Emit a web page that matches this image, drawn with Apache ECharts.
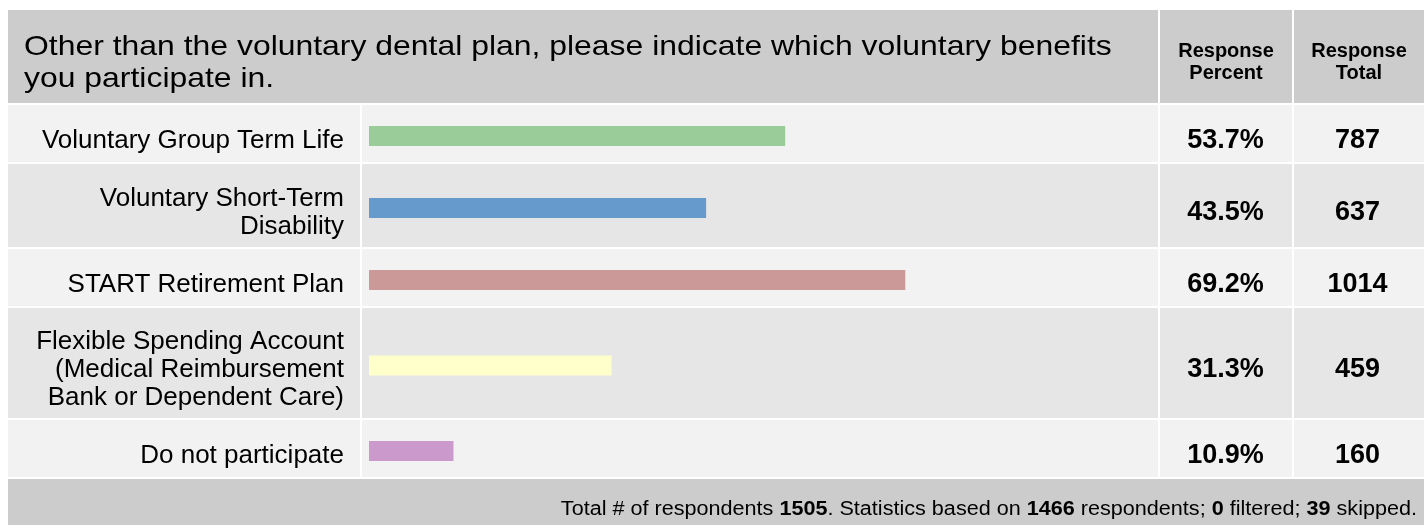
<!DOCTYPE html>
<html>
<head>
<meta charset="utf-8">
<title>Voluntary benefits</title>
<script src="https://cdn.jsdelivr.net/npm/echarts@6/dist/echarts.min.js"></script>
<style>
  html, body { margin: 0; padding: 0; background: #ffffff; }
  #chart { width: 1428px; height: 525px; }
</style>
</head>
<body>
<div id="chart"></div>
<script>
// 数据
const categories = [
  'Voluntary Group Term Life',
  'Voluntary Short-Term\nDisability',
  'START Retirement Plan',
  'Flexible Spending Account\n(Medical Reimbursement\nBank or Dependent Care)',
  'Do not participate'
];
const responsePercent = [53.7, 43.5, 69.2, 31.3, 10.9];
const responseTotal = [787, 637, 1014, 459, 160];
const totalRespondents = 1505;
const answeredRespondents = 1466;
const filteredCount = 0;
const skippedCount = 39;

// 样式 / 版面
const barColors = ['#99cc99', '#6699cc', '#cc9999', '#ffffcc', '#cc99cc'];
const rowBg = ['#f2f2f2', '#e6e6e6', '#f2f2f2', '#e6e6e6', '#f2f2f2'];
const rowBounds = [[105, 162], [164, 247], [249, 306], [308, 418], [420, 477]];
const FONT = '"Liberation Sans", Arial, Helvetica, sans-serif';
const BAR_LEFT = 369, BAR_RIGHT = 284, BAR_H = 20;
const TEXT_SHIFT = 4.5; // 文字比条形略低

const chart = echarts.init(document.getElementById('chart'));

// 背景格子
const graphics = [];
function rect(x, y, w, h, fill) {
  graphics.push({ type: 'rect', z: -10, silent: true, shape: { x, y, width: w, height: h }, style: { fill } });
}
// 表头
rect(8, 10, 1150, 93, '#cccccc');
rect(1160, 10, 132, 93, '#cccccc');
rect(1294, 10, 130, 93, '#cccccc');
// 各行
rowBounds.forEach((b, i) => {
  const h = b[1] - b[0];
  rect(8, b[0], 352, h, rowBg[i]);
  rect(362, b[0], 796, h, rowBg[i]);
  rect(1160, b[0], 132, h, rowBg[i]);
  rect(1294, b[0], 130, h, rowBg[i]);
});
// 页脚
rect(8, 479, 1416, 46, '#cccccc');

// 标题
graphics.push({
  type: 'text', z: 10, x: 24, y: 31, scaleX: 1.14, silent: true,
  style: {
    text: 'Other than the voluntary dental plan, please indicate which voluntary benefits\nyou participate in.',
    font: '28px ' + FONT, fill: '#000', lineHeight: 32,
    textAlign: 'left', textVerticalAlign: 'top'
  }
});
graphics.push({
  type: 'text', z: 10, x: 1226, y: 62, silent: true,
  style: { text: 'Response\nPercent', font: 'bold 20px ' + FONT, fill: '#000', lineHeight: 22, textAlign: 'center', textVerticalAlign: 'middle' }
});
graphics.push({
  type: 'text', z: 10, x: 1359, y: 62, silent: true,
  style: { text: 'Response\nTotal', font: 'bold 20px ' + FONT, fill: '#000', lineHeight: 22, textAlign: 'center', textVerticalAlign: 'middle' }
});
// 页脚说明
graphics.push({
  type: 'text', z: 10, x: 1417, y: 509, scaleX: 1.08, silent: true,
  style: {
    text: 'Total # of respondents {b|' + totalRespondents + '}. Statistics based on {b|' + answeredRespondents +
      '} respondents; {b|' + filteredCount + '} filtered; {b|' + skippedCount + '} skipped.',
    font: '20px ' + FONT, fill: '#000', textAlign: 'right', textVerticalAlign: 'middle',
    rich: { b: { fontWeight: 'bold', fontSize: 20, fontFamily: FONT, fill: '#000' } }
  }
});

// 每行两个grid：一个放条形，一个放文字（行高不同）
const grids = [], xAxes = [], yAxes = [], series = [];
const noLine = { axisLine: { show: false }, axisTick: { show: false }, splitLine: { show: false } };
categories.forEach((name, i) => {
  const b = rowBounds[i];
  const center = (b[0] + b[1]) / 2 + 2.5;
  const gBar = grids.length;
  grids.push({ left: BAR_LEFT, right: BAR_RIGHT, top: center - BAR_H / 2, height: BAR_H });
  const gText = grids.length;
  grids.push({ left: BAR_LEFT, right: BAR_RIGHT, top: center + TEXT_SHIFT - BAR_H / 2, height: BAR_H });

  xAxes.push({ type: 'value', gridIndex: gBar, min: 0, max: 100, show: false });
  xAxes.push({ type: 'value', gridIndex: gText, min: 0, max: 100, show: false });

  const yBar = yAxes.length;
  yAxes.push({ type: 'category', gridIndex: gBar, data: [name], show: false });
  yAxes.push(Object.assign({
    type: 'category', gridIndex: gText, data: [name], position: 'left',
    axisLabel: {
      margin: 25, fontSize: 26, fontFamily: FONT, color: '#000', lineHeight: 28, align: 'right'
    }
  }, noLine));
  yAxes.push(Object.assign({
    type: 'category', gridIndex: gText, data: [name], position: 'right',
    axisLabel: {
      margin: 15, align: 'left',
      formatter: () => '{p|' + responsePercent[i].toFixed(1) + '%}{t|' + responseTotal[i] + '}',
      rich: {
        p: { width: 133, align: 'center', fontSize: 27, fontWeight: 'bold', fontFamily: FONT, color: '#000' },
        t: { width: 131, align: 'center', fontSize: 27, fontWeight: 'bold', fontFamily: FONT, color: '#000' }
      }
    }
  }, noLine));

  series.push({
    type: 'bar', xAxisIndex: gBar, yAxisIndex: yBar, data: [responsePercent[i]],
    barWidth: BAR_H, silent: true, z: 5,
    itemStyle: { color: barColors[i] }
  });
});

const option = {
  animation: false,
  backgroundColor: '#ffffff',
  graphic: graphics,
  grid: grids,
  xAxis: xAxes,
  yAxis: yAxes,
  series: series
};

chart.setOption(option);

window.addEventListener('resize', function() {
  chart.resize();
});
</script>
</body>
</html>
